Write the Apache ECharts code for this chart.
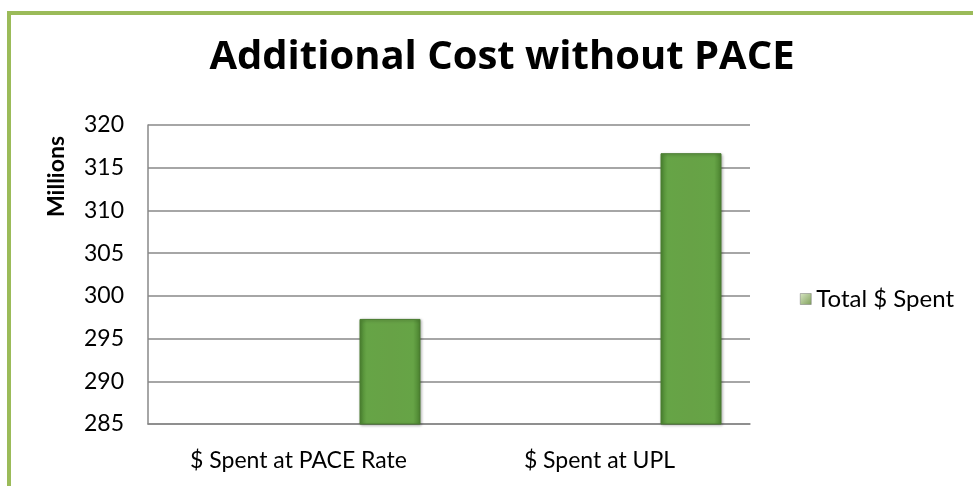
<!DOCTYPE html>
<html><head><meta charset="utf-8">
<script src="https://cdn.jsdelivr.net/npm/echarts@6/dist/echarts.min.js"></script>
<style>html,body{margin:0;padding:0;background:#fff}#c{width:973px;height:486px}</style>
</head><body><div id="c"></div>
<script>
const title = "Additional Cost without PACE";
const categories = ["$ Spent at PACE Rate", "$ Spent at UPL"];
const seriesName = "Total $ Spent";
const values = [297.3, 316.7];
const yMin = 285, yMax = 320, yStep = 5;
const yAxisName = "Millions";

const chart = echarts.init(document.getElementById('c'));
const font = "Lato, 'Open Sans', sans-serif";
const barGrad = new echarts.graphic.LinearGradient(0,0,1,0,[
  {offset:0,color:'#4f8a33'},{offset:0.12,color:'#66a446'},{offset:0.5,color:'#67a246'},{offset:0.88,color:'#66a446'},{offset:1,color:'#4b8230'}]);
chart.setOption({
  animation:false,
  graphic:[{type:'rect',shape:{x:9,y:13,width:1000,height:500},style:{fill:'none',stroke:'#9bbb59',lineWidth:4},z:-1}],
  title:{text:title,left:497,top:33,textAlign:'center',textStyle:{fontFamily:"'Open Sans', sans-serif",fontWeight:'bold',fontSize:40,color:'#000'}},
  legend:{data:[{name:seriesName,icon:'rect'}],left:795,top:282,itemWidth:11,itemHeight:11,itemGap:5,
    textStyle:{fontFamily:font,fontSize:24,color:'#000'},
    itemStyle:{color:new echarts.graphic.LinearGradient(0,0,1,1,[{offset:0,color:'#d8e6c4'},{offset:1,color:'#7fa05a'}]),borderColor:'#777',borderWidth:0.5}},
  grid:{left:148,top:125,width:602,height:299,containLabel:false},
  xAxis:{type:'category',data:categories,axisTick:{show:false},
    axisLine:{lineStyle:{color:'#888',width:1.5}},
    axisLabel:{fontFamily:font,fontSize:23,color:'#000',margin:25}},
  yAxis:{type:'value',min:yMin,max:yMax,interval:yStep,
    name:yAxisName,nameLocation:'middle',nameGap:80,nameRotate:90,
    nameTextStyle:{fontFamily:font,fontWeight:'bold',fontSize:23,color:'#000',padding:[0,0,0,196]},
    axisLine:{show:true,lineStyle:{color:'#888',width:1.5}},axisTick:{show:false},
    axisLabel:{fontFamily:font,fontSize:23,color:'#000',margin:24},
    splitLine:{lineStyle:{color:'#888',width:1.5}}},
  series:[
    {name:'_pad',type:'bar',data:categories.map(()=>null),barWidth:61,barGap:'200%',silent:true},
    {name:seriesName,type:'bar',data:values,barWidth:61,
     itemStyle:{color:barGrad,borderColor:'#4a7d30',borderWidth:1,shadowColor:'rgba(0,0,0,0.3)',shadowBlur:3,shadowOffsetX:1,shadowOffsetY:1}}
  ]
});
</script></body></html>
